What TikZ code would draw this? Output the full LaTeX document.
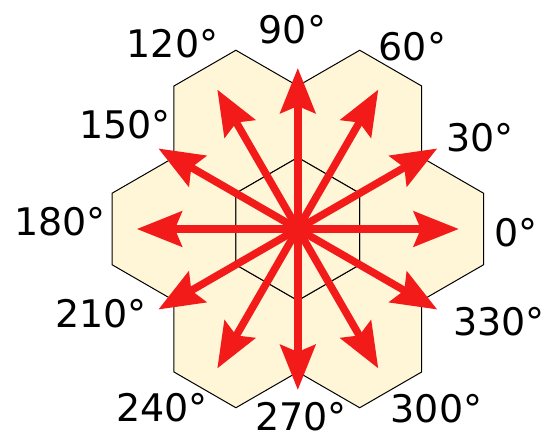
\documentclass[tikz,border=0pt]{standalone}
\usepackage{fontspec}
\setmainfont{DejaVu Sans}
\usetikzlibrary{arrows.meta}
\definecolor{hexfill}{RGB}{255,245,215}
\definecolor{arrred}{RGB}{243,26,26}
\begin{document}
\begin{tikzpicture}[x=1pt,y=1pt,
  hexcell/.style={fill=hexfill,draw=black,line width=1pt,line join=miter},
  dirarrow/.style={draw=arrred,line width=7.5pt,-{Stealth[length=45pt,width=35pt,inset=7pt]}},
  anglabel/.style={font=\fontsize{38}{40}\selectfont,inner sep=0pt}]
\useasboundingbox (0,0) rectangle (549,438);
\coordinate (C) at (297.8,209);
\def\hexR{71.5}
\begin{scope}[shift={(C)}]
  \foreach \t in {0,60,...,300}{
    \draw[hexcell,shift={(\t:123.84)}] (30:\hexR) -- (90:\hexR) -- (150:\hexR) -- (210:\hexR) -- (270:\hexR) -- (330:\hexR) -- cycle;
  }
  \draw[hexcell] (30:\hexR) -- (90:\hexR) -- (150:\hexR) -- (210:\hexR) -- (270:\hexR) -- (330:\hexR) -- cycle;
  \foreach \a in {0,30,...,330}{
    \coordinate (tip\a) at (\a:161);
  }
\end{scope}
\foreach \a in {0,30,...,330}{
  \draw[dirarrow] (C) -- (tip\a);
}
\node[anglabel] (l0)   at (516,205)   {0°};
\node[anglabel] (l30)  at (480,300)   {30°};
\node[anglabel] (l60)  at (412.5,391) {60°};
\node[anglabel] (l90)  at (292.5,408) {90°};
\node[anglabel] (l120) at (172.5,394) {120°};
\node[anglabel] (l150) at (125,313)   {150°};
\node[anglabel] (l180) at (60,216)    {180°};
\node[anglabel] (l210) at (101,124)   {210°};
\node[anglabel] (l240) at (162,30)    {240°};
\node[anglabel] (l270) at (301,21)    {270°};
\node[anglabel] (l300) at (436.5,29)  {300°};
\node[anglabel] (l330) at (499,116.5) {330°};
\end{tikzpicture}
\end{document}
